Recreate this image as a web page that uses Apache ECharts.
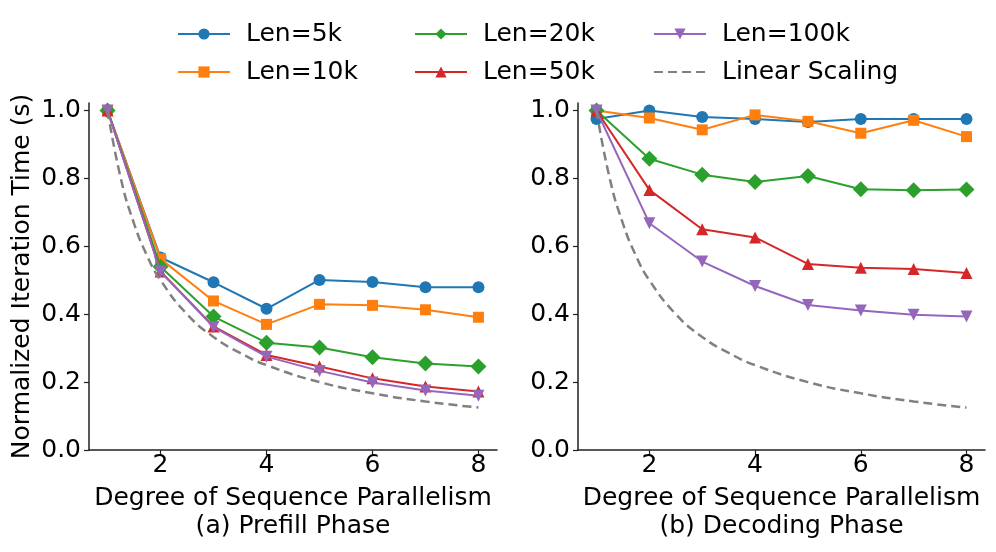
<!DOCTYPE html>
<html>
<head>
<meta charset="utf-8">
<title>Normalized Iteration Time</title>
<script src="https://cdn.jsdelivr.net/npm/echarts@6/dist/echarts.min.js"></script>
<style>
  html, body { margin: 0; padding: 0; background: #fff; }
  #chart { width: 996px; height: 552px; }
</style>
</head>
<body>
<div id="chart"></div>
<script>
// degree of sequence parallelism
const degrees = [1, 2, 3, 4, 5, 6, 7, 8];
const xTicks = [2, 4, 6, 8];
const yTicks = [0, 0.2, 0.4, 0.6, 0.8, 1.0];

const seriesNames = ["Len=5k", "Len=10k", "Len=20k", "Len=50k", "Len=100k"];

// (a) prefill phase
const prefill5k = [1.0, 0.567, 0.494, 0.416, 0.501, 0.495, 0.479, 0.479];
const prefill10k = [1.0, 0.563, 0.439, 0.370, 0.429, 0.426, 0.413, 0.391];
const prefill20k = [1.0, 0.540, 0.393, 0.316, 0.302, 0.273, 0.255, 0.246];
const prefill50k = [1.0, 0.526, 0.364, 0.280, 0.246, 0.211, 0.187, 0.172];
const prefill100k = [1.0, 0.525, 0.362, 0.275, 0.233, 0.199, 0.175, 0.160];

// (b) decoding phase
const decode5k = [0.975, 1.0, 0.981, 0.975, 0.966, 0.975, 0.975, 0.975];
const decode10k = [1.0, 0.978, 0.943, 0.987, 0.968, 0.933, 0.971, 0.923];
const decode20k = [1.0, 0.858, 0.811, 0.789, 0.807, 0.768, 0.765, 0.767];
const decode50k = [1.0, 0.766, 0.650, 0.626, 0.548, 0.537, 0.533, 0.521];
const decode100k = [1.0, 0.668, 0.555, 0.483, 0.427, 0.411, 0.398, 0.393];

// linear scaling reference curve
const linearX = [1, 1.25, 1.5, 1.75, 2, 2.5, 3, 3.5, 4, 5, 6, 7, 8];
const linearY = [1.0, 0.8, 0.667, 0.571, 0.5, 0.4, 0.333, 0.286, 0.25, 0.2, 0.167, 0.143, 0.125];

const colors = ["#1f77b4", "#ff7f0e", "#2ca02c", "#d62728", "#9467bd"];
const symbols = ["circle", "rect", "diamond", "triangle", "triangle"];
const symbolSizes = [12, 11, 16, 12, 12];
const symbolRotates = [0, 0, 0, 0, 180];
const FONT = "DejaVu Sans";

function pairs(xs, ys) {
  return xs.map((x, i) => [x, ys[i]]);
}

function makeLine(name, idx, values, axis) {
  return {
    name: name,
    type: "line",
    xAxisIndex: axis,
    yAxisIndex: axis,
    data: pairs(degrees, values),
    symbol: symbols[idx],
    symbolSize: symbolSizes[idx],
    symbolRotate: symbolRotates[idx],
    showAllSymbol: true,
    color: colors[idx],
    lineStyle: { width: 2 },
    itemStyle: { color: colors[idx] },
    emphasis: { disabled: true },
    animation: false,
    z: 2 + idx
  };
}

function makeLinear(axis) {
  return {
    name: "Linear Scaling",
    type: "line",
    xAxisIndex: axis,
    yAxisIndex: axis,
    data: pairs(linearX, linearY),
    symbol: "none",
    smooth: true,
    color: "#808080",
    lineStyle: { width: 2.5, type: [9, 5], color: "#808080" },
    emphasis: { disabled: true },
    animation: false,
    z: 8
  };
}

function xAxisFor(idx, title) {
  return {
    type: "value",
    gridIndex: idx,
    min: 0.65,
    max: 8.35,
    name: "Degree of Sequence Parallelism\n" + title,
    nameLocation: "middle",
    nameGap: 34,
    nameTextStyle: { fontFamily: FONT, fontSize: 25, color: "#000", lineHeight: 28 },
    axisLine: { show: true, lineStyle: { color: "#222", width: 1.5 } },
    axisTick: { show: true, length: 5, customValues: xTicks, lineStyle: { color: "#222", width: 1.2 } },
    axisLabel: {
      customValues: xTicks,
      margin: 3,
      fontFamily: FONT,
      fontSize: 25,
      color: "#000"
    },
    splitLine: { show: false }
  };
}

function yAxisFor(idx, withName) {
  const axis = {
    type: "value",
    gridIndex: idx,
    min: 0,
    max: 1.022,
    axisLine: { show: true, lineStyle: { color: "#222", width: 1.5 } },
    axisTick: { show: true, length: 5, customValues: yTicks, lineStyle: { color: "#222", width: 1.2 } },
    axisLabel: {
      customValues: yTicks,
      margin: 8,
      fontFamily: FONT,
      fontSize: 25,
      color: "#000",
      formatter: (v) => v.toFixed(1)
    },
    splitLine: { show: false }
  };
  if (withName) {
    axis.name = "Normalized Iteration Time (s)";
    axis.nameLocation = "middle";
    axis.nameGap = 54;
    axis.nameTextStyle = { fontFamily: FONT, fontSize: 25, color: "#000" };
  }
  return axis;
}

function legendAt(left, names) {
  return {
    orient: "vertical",
    left: left,
    top: 14,
    itemWidth: 52,
    itemHeight: 14,
    itemGap: 8,
    selectedMode: false,
    data: names,
    textStyle: {
      fontFamily: FONT,
      fontSize: 25,
      color: "#000",
      lineHeight: 30,
      padding: [0, 0, 0, 11]
    }
  };
}

const series = [];
const prefill = [prefill5k, prefill10k, prefill20k, prefill50k, prefill100k];
const decode = [decode5k, decode10k, decode20k, decode50k, decode100k];
seriesNames.forEach((name, i) => series.push(makeLine(name, i, prefill[i], 0)));
series.push(makeLinear(0));
seriesNames.forEach((name, i) => series.push(makeLine(name, i, decode[i], 1)));
series.push(makeLinear(1));

const option = {
  backgroundColor: "#fff",
  animation: false,
  textStyle: { fontFamily: FONT },
  legend: [
    legendAt(172, ["Len=5k", "Len=10k"]),
    legendAt(409, ["Len=20k", "Len=50k"]),
    // the dashed reference line has no marker in its legend entry
    legendAt(648, ["Len=100k", { name: "Linear Scaling", itemStyle: { opacity: 0 } }])
  ],
  grid: [
    { left: 89, top: 103, width: 408, height: 347 },
    { left: 578, top: 103, width: 407, height: 347 }
  ],
  xAxis: [xAxisFor(0, "(a) Prefill Phase"), xAxisFor(1, "(b) Decoding Phase")],
  yAxis: [yAxisFor(0, true), yAxisFor(1, false)],
  series: series
};

const chart = echarts.init(document.getElementById("chart"), null, { renderer: "canvas" });
chart.setOption(option);
</script>
</body>
</html>
